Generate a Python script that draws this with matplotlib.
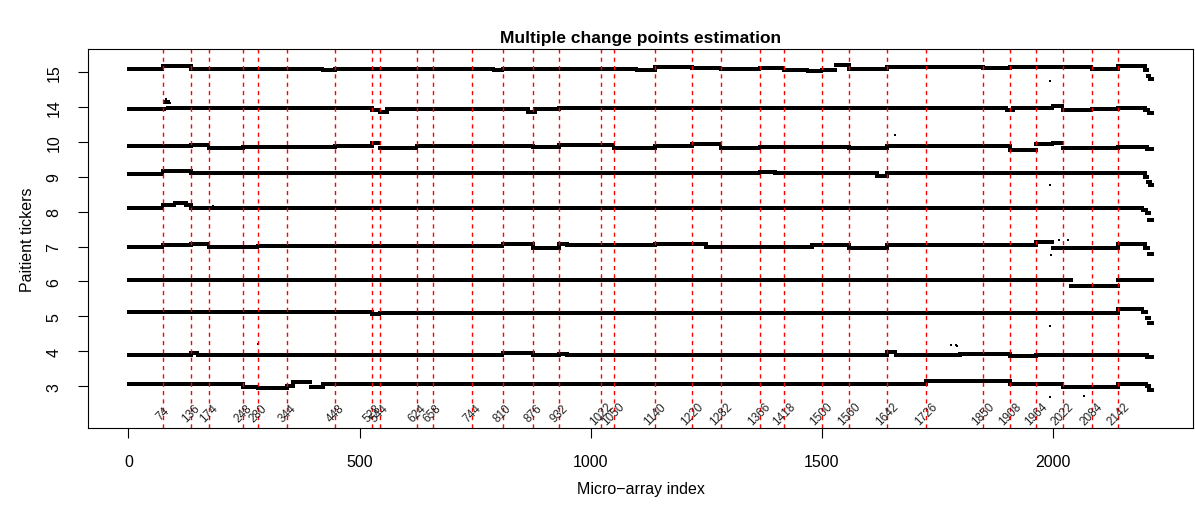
import numpy as np
import matplotlib
matplotlib.use("Agg")
import matplotlib.pyplot as plt

plt.rcParams['font.family'] = ['Liberation Sans', 'DejaVu Sans']

N = 2215
tickers = ["3", "4", "5", "6", "7", "8", "9", "10", "14", "15"]
change_points = [74, 136, 174, 248, 280, 344, 448, 528, 544, 624, 658, 744, 810,
                 876, 932, 1022, 1050, 1140, 1220, 1282, 1366, 1418, 1500, 1560,
                 1642, 1726, 1850, 1908, 1964, 2022, 2084, 2142]

# (start index, offset from the ticker row) piecewise levels per patient
t3 = [(1, 0.06), (248, -0.02), (280, -0.06), (344, 0.0), (357, 0.13), (394, -0.03),
      (422, 0.06), (1726, 0.14), (1908, 0.06), (2022, -0.03), (2142, 0.06),
      (2203, 0.0), (2209, -0.12)]
t4 = [(1, -0.11), (136, -0.06), (150, -0.11), (810, -0.06), (876, -0.11), (932, -0.08),
      (950, -0.11), (1642, -0.03), (1660, -0.11), (1800, -0.08), (1908, -0.14),
      (1964, -0.10), (2205, -0.16)]
t5 = [(1, 0.12), (528, 0.08), (544, 0.10), (2142, 0.20), (2195, 0.12), (2203, -0.05),
      (2209, -0.20)]
t6 = [(1, 0.04), (2040, -0.14), (2142, 0.04)]
t7 = [(1, 0.0), (74, 0.04), (136, 0.07), (174, -0.02), (280, 0.02), (544, 0.02),
      (810, 0.06), (876, -0.03), (932, 0.08), (950, 0.03), (1140, 0.08), (1220, 0.06),
      (1250, 0.0), (1282, -0.02), (1480, 0.03), (1560, -0.03), (1642, 0.05),
      (1964, 0.12), (2000, -0.03), (2084, -0.05), (2142, 0.06), (2200, -0.05),
      (2208, -0.20)]
t8 = [(1, 0.10), (74, 0.20), (100, 0.24), (125, 0.20), (136, 0.10), (2195, 0.05),
      (2203, -0.05), (2209, -0.25)]
t9 = [(1, 0.08), (74, 0.17), (136, 0.10), (1366, 0.14), (1400, 0.10), (1620, 0.03),
      (1642, 0.12), (2142, 0.10), (2200, 0.0), (2206, -0.15), (2211, -0.25)]
t10 = [(1, -0.12), (136, -0.09), (174, -0.17), (248, -0.14), (448, -0.12), (528, -0.02),
       (544, -0.17), (624, -0.12), (876, -0.16), (932, -0.09), (1050, -0.17),
       (1140, -0.12), (1220, -0.07), (1282, -0.17), (1366, -0.14), (1560, -0.17),
       (1642, -0.12), (1908, -0.22), (1964, -0.07), (2000, -0.02), (2022, -0.19),
       (2142, -0.15), (2205, -0.20)]
t14 = [(1, -0.06), (78, 0.14), (86, -0.04), (528, -0.10), (544, -0.14), (560, -0.06),
       (865, -0.14), (880, -0.06), (932, -0.02), (1900, -0.10), (1915, -0.04),
       (2000, 0.02), (2022, -0.10), (2084, -0.07), (2142, -0.02), (2200, -0.10),
       (2208, -0.18)]
t15 = [(1, 0.09), (74, 0.16), (136, 0.09), (420, 0.06), (448, 0.09), (790, 0.06),
       (810, 0.09), (1100, 0.06), (1140, 0.14), (1220, 0.11), (1282, 0.08),
       (1366, 0.12), (1418, 0.06), (1470, 0.04), (1500, 0.07), (1530, 0.21),
       (1560, 0.09), (1642, 0.14), (1726, 0.15), (1850, 0.12), (1908, 0.14),
       (2084, 0.09), (2142, 0.18), (2200, 0.05), (2206, -0.10), (2210, -0.20)]
series = [t3, t4, t5, t6, t7, t8, t9, t10, t14, t15]

# isolated stray probes: (row number 1..10, index, offset)
outliers = [(9, 82, 0.22), (9, 90, 0.12), (8, 1658, 0.19), (7, 1995, -0.24),
            (10, 1995, -0.26), (2, 1779, 0.17), (2, 1791, 0.17), (2, 1793, 0.14),
            (5, 2013, 0.18), (5, 2032, 0.20), (5, 1996, -0.25), (3, 1995, -0.28),
            (1, 1995, -0.31), (1, 2068, -0.28), (2, 281, 0.20), (6, 182, 0.16)]

# dot sizes (the noisier row looks thicker)
dot_sizes = [2.2, 2.2, 2.2, 2.2, 2.2, 2.2, 2.2, 2.2, 2.9, 2.2]

fig = plt.figure(figsize=(11.95, 5.06), dpi=100)
W, H = 1195, 506
ax = fig.add_axes([88 / W, 1 - 429 / H, (1193 - 88) / W, (429 - 50) / H])

idx = np.arange(1, N + 1)
for row, segs in enumerate(series, start=1):
    starts = [s for s, _ in segs]
    vals = [v for _, v in segs]
    pos = np.searchsorted(starts, idx, side='right') - 1
    y = row + np.asarray(vals)[pos]
    ax.plot(idx, y, ls='none', marker='s', ms=dot_sizes[row - 1], mew=0,
            color='black')

ox = [o[1] for o in outliers]
oy = [o[0] + o[2] for o in outliers]
ax.plot(ox, oy, ls='none', marker='s', ms=1.9, mew=0, color='black')

for cp in change_points:
    ax.axvline(cp, color='#FF0000', lw=1.0, ls=(0, (3, 3)))
    ax.text(cp, 0.22, str(cp), rotation=45, ha='center', va='center',
            fontsize=8.5, color='#222222')

ax.set_xlim(1 - 0.04 * (N - 1), N + 0.04 * (N - 1))
ax.set_ylim(-0.2, 10.66)
ax.set_xticks([0, 500, 1000, 1500, 2000])
ax.set_xticklabels(["0", "500", "1000", "1500", "2000"])
ax.set_yticks(range(1, 11))
ax.set_yticklabels(tickers, rotation=90, va='center')
ax.tick_params(axis='both', direction='out', length=7, width=0.8, labelsize=11.5,
               color='black')
ax.tick_params(axis='x', pad=12)
ax.tick_params(axis='y', pad=12)
for sp in ax.spines.values():
    sp.set_linewidth(0.8)

fig.text(0.5 * (88 + 1193) / W, 1 - 38 / H, "Multiple change points estimation",
         ha='center', va='center', fontsize=12.5, fontweight='bold')
fig.text(0.5 * (88 + 1193) / W, 1 - 490 / H, "Micro\u2212array index",
         ha='center', va='center', fontsize=11.5)
fig.text(28 / W, 1 - 0.5 * (50 + 429) / H, "Paitient tickers", rotation=90,
         ha='center', va='center', fontsize=11.5)

fig.savefig("out.png", dpi=100)
